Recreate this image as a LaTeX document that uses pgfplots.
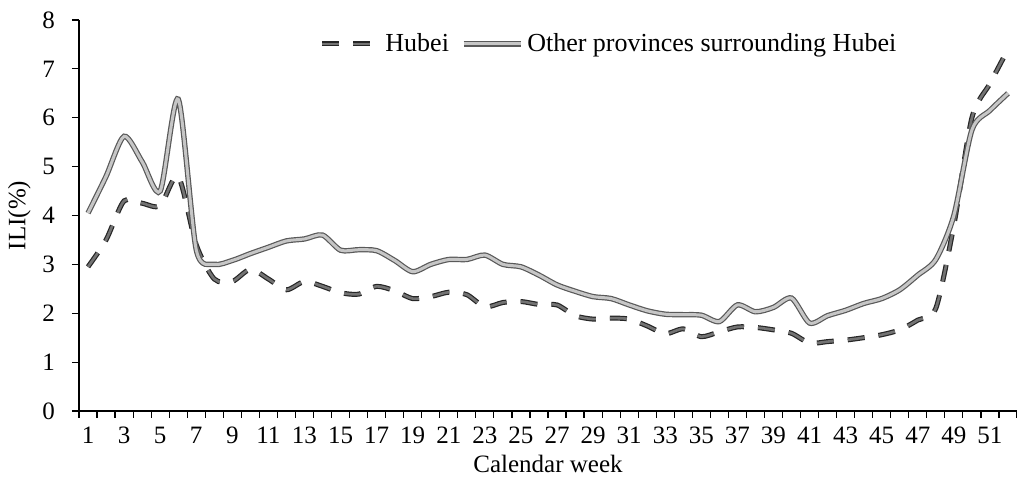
\documentclass[border=0pt]{standalone}
\usepackage{fontspec}
\setmainfont{Liberation Serif}
\usepackage{pgfplots}
\pgfplotsset{compat=1.18}

\begin{document}
\begin{tikzpicture}
  \begin{axis}[
      scale only axis,
      width=469pt, height=195.5pt,
      xmin=0.5, xmax=52.5,
      ymin=0, ymax=8,
      axis x line=bottom, axis y line=left,
      axis line style={-, line width=0.6pt},
      tick align=outside,
      major tick length=3.5pt,
      tick style={line width=0.6pt, black},
      xtick={0.5,1.5,...,52.5},
      xticklabels={},
      extra x ticks={1,3,...,51},
      extra x tick style={major tick length=0pt,
        xticklabel style={yshift=-4.5pt}},
      ytick={0,1,...,8},
      yticklabel style={xshift=-5pt},
      /pgf/number format/assume math mode=true,
      tick label style={font=\fontsize{12.5}{14}\selectfont},
      xlabel={Calendar week},
      ylabel={ILI(\%)},
      label style={font=\fontsize{12.5}{14}\selectfont},
      xlabel style={yshift=4.5pt},
      ylabel style={yshift=-1pt},
      legend columns=-1,
      legend style={at={(0.566,0.939)}, anchor=center, draw=none, fill=none,
        font=\fontsize{13}{15}\selectfont,
        /tikz/every even column/.append style={column sep=4pt}},
      legend image code/.code={\draw[#1] (0cm,0cm) -- (1.0cm,0cm);},
      clip=false,
    ]
    % Hubei
    \addplot[smooth, tension=0.45, line width=0.6pt, color=black!85,
             double=black!55, double distance=1.3pt,
             dash pattern=on 8.5pt off 7pt] coordinates {
      (1,2.95) (2,3.5) (3,4.3) (4,4.25) (5,4.2) (6,4.8) (7,3.4) (8,2.7)
      (9,2.65) (10,2.9) (11,2.7) (12,2.48) (13,2.65) (14,2.55) (15,2.42)
      (16,2.39) (17,2.55) (18,2.46) (19,2.3) (20,2.34) (21,2.43) (22,2.38)
      (23,2.13) (24,2.22) (25,2.24) (26,2.18) (27,2.17) (28,1.95) (29,1.88)
      (30,1.9) (31,1.88) (32,1.74) (33,1.58) (34,1.68) (35,1.52) (36,1.62)
      (37,1.72) (38,1.71) (39,1.66) (40,1.59) (41,1.39) (42,1.42) (43,1.45)
      (44,1.5) (45,1.56) (46,1.66) (47,1.86) (48,2.1) (49,3.8) (50,6.0)
      (51,6.7) (52,7.4)
    };
    \addlegendentry{Hubei}
    % Other provinces surrounding Hubei
    \addplot[smooth, tension=0.45, line width=0.6pt, color=gray!70!black,
             double=gray!45, double distance=1.5pt] coordinates {
      (1,4.05) (2,4.8) (3,5.62) (4,5.1) (5,4.5) (6,6.38) (7,3.3) (8,3.0)
      (9,3.08) (10,3.22) (11,3.35) (12,3.48) (13,3.52) (14,3.6) (15,3.29)
      (16,3.3) (17,3.28) (18,3.08) (19,2.85) (20,3.0) (21,3.1) (22,3.1)
      (23,3.19) (24,3.0) (25,2.95) (26,2.78) (27,2.58) (28,2.45) (29,2.34)
      (30,2.3) (31,2.17) (32,2.05) (33,1.98) (34,1.97) (35,1.96) (36,1.83)
      (37,2.17) (38,2.03) (39,2.12) (40,2.31) (41,1.8) (42,1.95) (43,2.06)
      (44,2.2) (45,2.3) (46,2.48) (47,2.78) (48,3.1) (49,4.0) (50,5.75)
      (51,6.15) (52,6.5)
    };
    \addlegendentry{Other provinces surrounding Hubei}
  \end{axis}
  \pgfresetboundingbox
  \path ([xshift=-39.5pt,yshift=-36.5pt]current axis.south west)
    rectangle ([yshift=10pt]current axis.north east);
\end{tikzpicture}
\end{document}
